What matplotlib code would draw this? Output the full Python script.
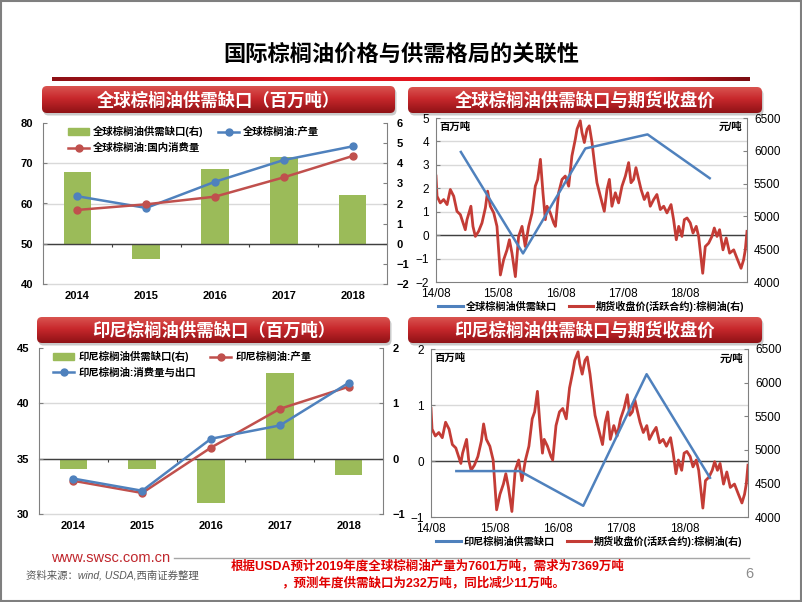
import numpy as np
import pandas as pd
import matplotlib
matplotlib.use('Agg')
import matplotlib.pyplot as plt
import matplotlib.dates as mdates
from matplotlib.patches import FancyBboxPatch, Rectangle, Patch
from matplotlib.lines import Line2D

plt.rcParams['font.family'] = ['Liberation Sans', 'Noto Sans CJK SC']
plt.rcParams['axes.unicode_minus'] = True

# ---------------- data ----------------
years = ['2014', '2015', '2016', '2017', '2018']
global_gap = [3.55, -0.78, 3.7, 4.3, 2.43]
global_prod = [61.8, 58.9, 65.4, 70.8, 74.2]
global_cons = [58.4, 59.8, 61.7, 66.5, 71.8]
indo_gap = [-0.18, -0.18, -0.8, 1.55, -0.3]
indo_prod = [33.0, 31.9, 36.0, 39.5, 41.5]
indo_cons_exp = [33.2, 32.1, 36.8, 38.0, 41.85]
gap_dates = ['2014-12-25', '2015-12-25', '2016-12-25', '2017-12-25', '2018-12-25']

price_dates = [
    '2014-08-01', '2014-08-07', '2014-08-26', '2014-09-15', '2014-10-05', '2014-10-24',
    '2014-11-13', '2014-12-02', '2014-12-22', '2015-01-20', '2015-01-30', '2015-02-22',
    '2015-03-06', '2015-03-20', '2015-04-08', '2015-04-28', '2015-05-18', '2015-05-31',
    '2015-06-16', '2015-07-06', '2015-07-25', '2015-08-14', '2015-09-02', '2015-09-22',
    '2015-10-06', '2015-10-21', '2015-11-10', '2015-11-29', '2015-12-19', '2016-01-07',
    '2016-01-27', '2016-02-16', '2016-03-06', '2016-03-20', '2016-04-05', '2016-04-20',
    '2016-05-04', '2016-05-14', '2016-06-02', '2016-06-22', '2016-07-02', '2016-07-21',
    '2016-08-10', '2016-08-29', '2016-09-18', '2016-10-07', '2016-10-27', '2016-11-06',
    '2016-11-25', '2016-12-05', '2016-12-19', '2017-01-04', '2017-01-17', '2017-02-02',
    '2017-02-16', '2017-03-03', '2017-03-23', '2017-04-15', '2017-05-01', '2017-05-15',
    '2017-05-30', '2017-06-19', '2017-07-08', '2017-07-28', '2017-08-17', '2017-09-05',
    '2017-09-19', '2017-10-04', '2017-10-18', '2017-11-03', '2017-11-17', '2017-12-06',
    '2017-12-26', '2018-01-10', '2018-01-30', '2018-02-18', '2018-03-10', '2018-03-30',
    '2018-04-18', '2018-05-12', '2018-05-27', '2018-06-12', '2018-06-26', '2018-07-15',
    '2018-07-29', '2018-08-14', '2018-09-02', '2018-09-18', '2018-10-07', '2018-10-21',
    '2018-11-14', '2018-11-29', '2018-12-19', '2019-01-07', '2019-01-21', '2019-02-06',
    '2019-02-21', '2019-03-13', '2019-04-01', '2019-04-21', '2019-05-15', '2019-06-07',
    '2019-06-27', '2019-07-12', '2019-07-22', '2019-08-01']
price_values = [
    5615, 5308, 5206, 5257, 5180, 5410,
    5308, 5078, 5027, 4797, 4950, 5155,
    4848, 4695, 4772, 4900, 5130, 5385,
    5155, 5053, 4848, 4107, 4337, 4490,
    4644, 4440, 4082, 4695, 4848, 4541,
    4848, 5053, 5461, 5564, 5870, 5359,
    4950, 5155, 5053, 4900, 4848, 5360,
    5564, 5615, 5461, 5921, 6177, 6330,
    6458, 6279, 6126, 6330, 6381, 6126,
    5820, 5513, 5308, 5078, 5410, 5564,
    5155, 5360, 5206, 5461, 5615, 5820,
    5513, 5564, 5743, 5564, 5410, 5257,
    5360, 5155, 5257, 5334, 5104, 5155,
    5053, 5180, 4950, 4644, 4848, 4695,
    4950, 4976, 4900, 4746, 4848, 4695,
    4133, 4541, 4593, 4695, 4823, 4695,
    4797, 4490, 4670, 4440, 4490, 4337,
    4209, 4337, 4490, 4772]

date_ticks = ['2014-08-01', '2015-08-01', '2016-08-01', '2017-08-01', '2018-08-01']
date_labels = ['14/08', '15/08', '16/08', '17/08', '18/08']

# ---------------- styles ----------------
GREEN = '#9bbb59'
BLUE = '#4f81bd'
RED = '#c0504d'
PRICE_RED = '#c43c36'
GRID = '#d9d9d9'
SPINE = '#808080'
ZERO = '#404040'
CJK = ['Liberation Sans', 'Noto Sans CJK SC']

W, H = 802, 602
fig = plt.figure(figsize=(W / 100, H / 100), dpi=100)


def frect(x0, y0, x1, y1):
    return [x0 / W, 1 - y1 / H, (x1 - x0) / W, (y1 - y0) / H]


def map_lr(v, llim, rlim):
    return rlim[0] + (v - llim[0]) * (rlim[1] - rlim[0]) / (llim[1] - llim[0])


# ---------------- background / slide decorations ----------------
bg = fig.add_axes([0, 0, 1, 1])
bg.set_zorder(-10)
bg.axis('off')


def gradient(stops, n=64):
    pos = [s[0] for s in stops]
    cols = [matplotlib.colors.to_rgb(s[1]) for s in stops]
    t = np.linspace(0, 1, n)
    arr = np.zeros((n, 3))
    for c in range(3):
        arr[:, c] = np.interp(t, pos, [col[c] for col in cols])
    return arr


vgrad = gradient([(0, '#d95450'), (0.45, '#c8282c'), (1, '#8f1216')])[:, None, :]


def banner(x0, y0, x1, y1, text):
    sh = FancyBboxPatch((x0 + 1.5, y0 + 2.5), x1 - x0, y1 - y0,
                        boxstyle='round,pad=0,rounding_size=5', fc='#8a8a8a', ec='none', alpha=0.45, zorder=1)
    bg.add_patch(sh)
    clip = FancyBboxPatch((x0, y0), x1 - x0, y1 - y0,
                          boxstyle='round,pad=0,rounding_size=5', fc='none', ec='none', zorder=2)
    bg.add_patch(clip)
    im = bg.imshow(vgrad, extent=[x0, x1, y1, y0], aspect='auto', interpolation='bilinear', zorder=2)
    im.set_clip_path(clip)
    bg.text((x0 + x1) / 2, (y0 + y1) / 2 + 0.5, text, color='white', fontsize=12.5, weight='bold',
            ha='center', va='center', family=CJK, zorder=3)


# red line under title
hgrad = gradient([(0, '#8e1015'), (0.2, '#b5121a'), (0.35, '#e3151f'), (0.85, '#e3151f'), (1, '#7c0d11')])[None, :, :]
bg.imshow(hgrad, extent=[52, 750, 81, 77], aspect='auto', interpolation='bilinear', zorder=2)

bg.text(401, 55, '国际棕榈油价格与供需格局的关联性', fontsize=16, weight='bold', ha='center', va='center',
        family=CJK, color='black')

banner(42, 86, 395, 113, '全球棕榈油供需缺口（百万吨）')
banner(408, 87, 762, 113, '全球棕榈油供需缺口与期货收盘价')
banner(37, 317, 390, 343, '印尼棕榈油供需缺口（百万吨）')
banner(408, 317, 762, 343, '印尼棕榈油供需缺口与期货收盘价')

# footer
bg.text(51, 558, 'www.swsc.com.cn', color='#c0272d', fontsize=10.5, ha='left', va='center')
bg.plot([174, 749], [558, 558], color='#a6a6a6', lw=1)
bg.text(26, 575, '资料来源：wind, USDA,西南证券整理', color='#595959', fontsize=7.5, style='italic',
        ha='left', va='center', family=CJK)
bg.text(428, 566, '根据USDA预计2019年度全球棕榈油产量为7601万吨，需求为7369万吨', color='#e00000',
        fontsize=9, weight='bold', ha='center', va='center', family=CJK)
bg.text(424, 583, '，预测年度供需缺口为232万吨，同比减少11万吨。', color='#e00000',
        fontsize=9, weight='bold', ha='center', va='center', family=CJK)
bg.text(749, 574, '6', color='#8c8c8c', fontsize=10.5, ha='center', va='center')

bg.add_patch(Rectangle((1, 1), 799.5, 599.5, fill=False, ec='#7f7f7f', lw=1.5, zorder=5))
bg.set_xlim(0, W)
bg.set_ylim(H, 0)


# ---------------- category charts (left) ----------------
def category_chart(rect, llim, lticks, rlim, rticks, gap, line_specs, legend_order, leg_x):
    axR = fig.add_axes(rect)
    axL = fig.add_axes(rect, sharex=axR)
    axL.set_zorder(axR.get_zorder() + 1)
    axL.patch.set_visible(False)
    x = np.arange(len(years))

    axR.set_ylim(*rlim)
    axL.set_ylim(*llim)
    axR.set_xlim(-0.5, len(years) - 0.5)

    for v in lticks[:-1]:
        axR.axhline(map_lr(v, llim, rlim), color=GRID, lw=1, zorder=0, clip_on=False)
    bars = axR.bar(x, gap, width=0.4, color=GREEN, zorder=2)
    axR.axhline(0, color=ZERO, lw=1, zorder=3)
    axR.vlines(x[:-1] + 0.5, -(rlim[1] - rlim[0]) * 0.022, 0, color=ZERO, lw=0.8, zorder=3)

    handles = {}
    for key, vals, col, lab in line_specs:
        h, = axL.plot(x, vals, color=col, lw=1.8, marker='o', ms=5, zorder=4, label=lab)
        handles[key] = h
    handles['bar'] = Patch(color=GREEN, label=legend_order[0][1])

    axR.yaxis.tick_right()
    axR.set_yticks(rticks)
    axR.tick_params(axis='y', direction='in', length=3, color=SPINE, pad=7, labelsize=8)
    axL.set_yticks(lticks)
    axL.tick_params(axis='y', direction='in', length=3, color=SPINE, pad=7, labelsize=8)
    for lab in axR.get_yticklabels() + axL.get_yticklabels():
        lab.set_fontweight('bold')
    axR.tick_params(axis='x', bottom=False, labelbottom=False)
    axL.set_xticks(x)
    axL.set_xticklabels(years, fontsize=8, fontweight='bold')
    axL.tick_params(axis='x', length=0, pad=5)

    for a in (axR, axL):
        for s in ('top', 'bottom'):
            a.spines[s].set_visible(False)
    axR.spines['left'].set_visible(False)
    axR.spines['right'].set_color(SPINE)
    axL.spines['right'].set_visible(False)
    axL.spines['left'].set_color(SPINE)

    hl = [handles[k] for k, _ in legend_order]
    ll = [l for _, l in legend_order]
    axL.legend(hl, ll, ncol=2, loc='upper left', bbox_to_anchor=(leg_x, 1.0), frameon=False,
               borderaxespad=0, borderpad=0.3, handlelength=2.0, handletextpad=0.4,
               columnspacing=1.4, labelspacing=0.55,
               prop={'family': CJK, 'weight': 'bold', 'size': 7.5})
    return axL, axR


category_chart(frect(43, 123, 387, 284), (40, 80), [40, 50, 60, 70, 80], (-2, 6), list(range(-2, 7)),
               global_gap,
               [('prod', global_prod, BLUE, '全球棕榈油:产量'),
                ('cons', global_cons, RED, '全球棕榈油:国内消费量')],
               [('bar', '全球棕榈油供需缺口(右)'), ('cons', '全球棕榈油:国内消费量'), ('prod', '全球棕榈油:产量')],
               0.064)

category_chart(frect(39, 348, 383, 514), (30, 45), [30, 35, 40, 45], (-1, 2), [-1, 0, 1, 2],
               indo_gap,
               [('prod', indo_prod, RED, '印尼棕榈油:产量'),
                ('cons', indo_cons_exp, BLUE, '印尼棕榈油:消费量与出口')],
               [('bar', '印尼棕榈油供需缺口(右)'), ('cons', '印尼棕榈油:消费量与出口'), ('prod', '印尼棕榈油:产量')],
               0.032)


# ---------------- time charts (right) ----------------
pdates = pd.to_datetime(price_dates)
gdates = pd.to_datetime(gap_dates)
xmin, xmax = pd.Timestamp('2014-08-01'), pd.Timestamp('2019-08-01')


def time_chart(rect, llim, lticks, gap, gap_label, leg_y):
    rlim = (4000, 6500)
    axR = fig.add_axes(rect)
    axL = fig.add_axes(rect, sharex=axR)
    axL.set_zorder(axR.get_zorder() + 1)
    axL.patch.set_visible(False)
    axR.set_ylim(*rlim)
    axL.set_ylim(*llim)
    axR.set_xlim(xmin, xmax)

    for v in lticks[1:]:
        axR.axhline(map_lr(v, llim, rlim), color=GRID, lw=1, zorder=0)
    axR.axhline(map_lr(0, llim, rlim), color=ZERO, lw=1, zorder=1)

    hp, = axR.plot(pdates, price_values, color=PRICE_RED, lw=2, zorder=2)
    hg, = axL.plot(gdates, gap, color=BLUE, lw=1.8, zorder=3)

    axR.yaxis.tick_right()
    axR.set_yticks(list(range(4000, 6501, 500)))
    axR.tick_params(axis='y', direction='in', length=3, color=SPINE, pad=5, labelsize=8.5)
    axL.set_yticks(lticks)
    axL.tick_params(axis='y', direction='in', length=3, color=SPINE, pad=5, labelsize=8.5)
    axR.tick_params(axis='x', bottom=False, labelbottom=False)
    axL.set_xticks(pd.to_datetime(date_ticks))
    axL.set_xticklabels(date_labels, fontsize=8.5)
    axL.tick_params(axis='x', length=0, pad=4)

    for a in (axR, axL):
        a.spines['top'].set_visible(False)
        a.spines['bottom'].set_visible(False)
    axR.spines['left'].set_visible(False)
    axR.spines['right'].set_color(SPINE)
    axL.spines['right'].set_visible(False)
    axL.spines['left'].set_color(SPINE)
    axR.spines['bottom'].set_visible(True)
    axR.spines['bottom'].set_color(SPINE)

    axL.text(0.012, 0.975, '百万吨', transform=axL.transAxes, fontsize=7.5, weight='bold',
             ha='left', va='top', family=CJK)
    axL.text(0.985, 0.975, '元/吨', transform=axL.transAxes, fontsize=7.5, weight='bold',
             ha='right', va='top', family=CJK)

    axL.legend([Line2D([], [], color=BLUE, lw=2.2), Line2D([], [], color=PRICE_RED, lw=2.2)],
               [gap_label, '期货收盘价(活跃合约):棕榈油(右)'], ncol=2, loc='center',
               bbox_to_anchor=(0.5, leg_y), frameon=False, handlelength=2.4, handletextpad=0.3,
               columnspacing=1.2, borderaxespad=0,
               prop={'family': CJK, 'weight': 'bold', 'size': 7.3})


time_chart(frect(436, 118, 747, 282), (-2, 5), list(range(-2, 6)), global_gap, '全球棕榈油供需缺口',
           -(306 - 282) / (282 - 118))
time_chart(frect(431, 349, 748, 517), (-1, 2), [-1, 0, 1, 2], indo_gap, '印尼棕榈油供需缺口',
           -(541 - 517) / (517 - 349))

fig.savefig('out.png', dpi=100)
